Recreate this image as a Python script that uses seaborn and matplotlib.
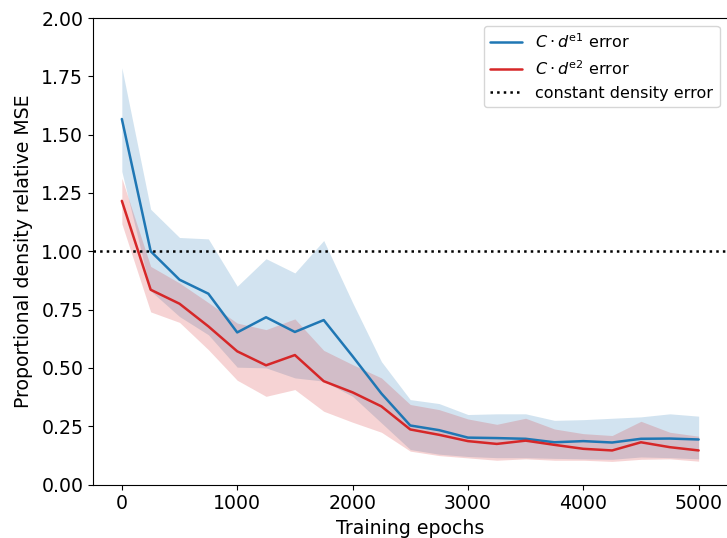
import numpy as np
import pandas as pd
import matplotlib
matplotlib.use("Agg")
import matplotlib.pyplot as plt
import seaborn as sns

# epochs di training
epochs = list(range(0, 5001, 250))

# errore C*d^e1 (media e banda)
e1_mean = [1.567, 1.00, 0.878, 0.818, 0.652, 0.717, 0.654, 0.705, 0.55, 0.39, 0.253,
           0.233, 0.201, 0.199, 0.196, 0.181, 0.186, 0.18, 0.196, 0.197, 0.193]
e1_upper = [1.787, 1.18, 1.059, 1.053, 0.85, 0.968, 0.907, 1.046, 0.78, 0.527, 0.364,
            0.347, 0.30, 0.303, 0.303, 0.275, 0.278, 0.284, 0.29, 0.303, 0.293]
e1_lower = [1.342, 0.83, 0.72, 0.642, 0.503, 0.50, 0.457, 0.443, 0.378, 0.264, 0.15,
            0.13, 0.12, 0.115, 0.115, 0.112, 0.11, 0.108, 0.118, 0.115, 0.11]

# errore C*d^e2 (media e banda)
e2_mean = [1.216, 0.835, 0.775, 0.678, 0.571, 0.511, 0.555, 0.443, 0.395, 0.335, 0.236,
           0.213, 0.186, 0.174, 0.188, 0.17, 0.153, 0.146, 0.181, 0.16, 0.146]
e2_upper = [1.313, 0.935, 0.864, 0.78, 0.692, 0.664, 0.71, 0.575, 0.514, 0.457, 0.343,
            0.321, 0.281, 0.258, 0.284, 0.238, 0.218, 0.21, 0.271, 0.224, 0.207]
e2_lower = [1.118, 0.74, 0.695, 0.578, 0.447, 0.378, 0.407, 0.314, 0.267, 0.224, 0.143,
            0.124, 0.114, 0.104, 0.11, 0.104, 0.104, 0.099, 0.108, 0.11, 0.1]

constant_error = 1.0

sns.set_style("white")
plt.rcParams['font.family'] = ['DejaVu Sans']
plt.rcParams['font.size'] = 13.6
plt.rcParams['axes.edgecolor'] = 'black'
plt.rcParams['text.color'] = 'black'
plt.rcParams['axes.labelcolor'] = 'black'
plt.rcParams['xtick.color'] = 'black'
plt.rcParams['ytick.color'] = 'black'
plt.rcParams['xtick.bottom'] = True
plt.rcParams['ytick.left'] = True

df = pd.DataFrame({'epoch': epochs, 'e1': e1_mean, 'e2': e2_mean})

fig = plt.figure(figsize=(7.27, 5.38), dpi=100)
ax = fig.add_axes([93 / 727, 1 - 484.5 / 538, 634.5 / 727, 466.5 / 538])

blue = '#1f77b4'
red = '#d62728'

sns.lineplot(data=df, x='epoch', y='e1', color=blue, linewidth=1.8,
             label=r'$C\cdot d^{\mathrm{e}1}$ error', ax=ax)
ax.fill_between(epochs, e1_lower, e1_upper, color=blue, alpha=0.2, linewidth=0)
sns.lineplot(data=df, x='epoch', y='e2', color=red, linewidth=1.8,
             label=r'$C\cdot d^{\mathrm{e}2}$ error', ax=ax)
ax.fill_between(epochs, e2_lower, e2_upper, color=red, alpha=0.2, linewidth=0)
ax.axhline(constant_error, color='black', linestyle=':', linewidth=1.8,
           label='constant density error')

ax.set_xlim(-250, 5250)
ax.set_ylim(0, 2)
ax.set_yticks(np.arange(0, 2.01, 0.25))
ax.set_yticklabels([f'{v:.2f}' for v in np.arange(0, 2.01, 0.25)])
ax.set_xticks([0, 1000, 2000, 3000, 4000, 5000])
ax.set_xlabel('Training epochs')
ax.set_ylabel('Proportional density relative MSE', labelpad=6)
ax.legend(loc='upper right', fontsize=11.5)

fig.savefig('out.png', dpi=100)
